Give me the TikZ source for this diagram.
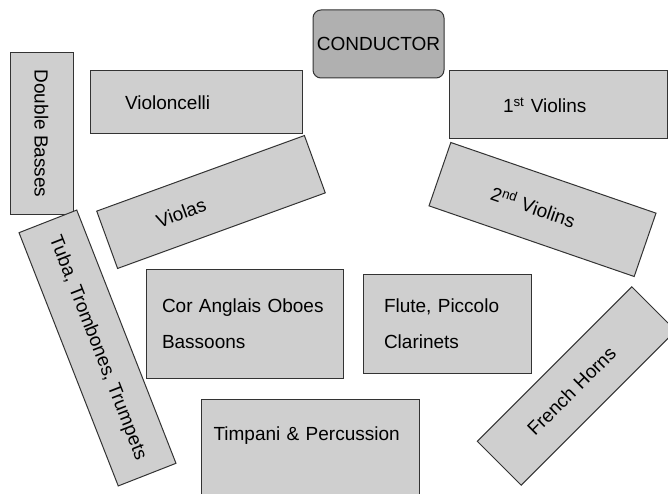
\documentclass[tikz,border=0pt]{standalone}
\usepackage{fontspec}
\setmainfont{Liberation Sans}
\usepackage{tikz}

\begin{document}
\begin{tikzpicture}[x={(1pt,0pt)},y={(0pt,-1pt)},
    section/.style={draw=black!80,fill=black!19,line width=1pt,inner ysep=0pt,
      font=\fontsize{19}{36}\selectfont,align=left},
    podium/.style={draw=black!80,fill=black!31,line width=1pt,rounded corners=8pt,
      inner sep=0pt,font=\fontsize{19}{22}\selectfont}]
  \clip (0,0) rectangle (668,494);
  % strings
  \node (basses) [section,rotate=-90,minimum width=161pt,minimum height=63pt,inner xsep=0pt] at (41.5,133.5) {Double Basses};
  \node (cellos) [section,minimum width=212pt,minimum height=63pt,inner xsep=35pt,text width=142pt] at (196,102.5) {Violoncelli};
  \node (conductor) [podium,minimum width=131pt,minimum height=68pt] at (378.5,44) {CONDUCTOR};
  \node (firstvn) [section,minimum width=218pt,minimum height=68pt,inner xsep=54pt,text width=110pt] at (558,105) {1\textsuperscript{st} Violins};
  \node (secondvn) [section,rotate=-19,minimum width=217pt,minimum height=67pt,inner xsep=55pt,text width=107pt] at (542.5,209.5) {2\textsuperscript{nd} Violins};
  \node (violas) [section,rotate=20,minimum width=221pt,minimum height=61pt,inner xsep=53pt,text width=115pt] at (211,202) {Violas};
  % brass
  \node (brass) [section,rotate=-68.6,minimum width=272pt,minimum height=62pt,inner xsep=0pt] at (97.5,348) {Tuba, Trombones, Trumpets};
  \node (horns) [section,rotate=45,minimum width=218.5pt,minimum height=62pt,inner xsep=44pt,text width=130.5pt] at (576.5,386) {French Horns};
  % woodwind
  \node (reeds) [section,minimum width=197pt,minimum height=109pt,inner xsep=16pt,text width=165pt] at (244.5,323.5) {Cor Anglais Oboes\\Bassoons};
  \node (flutes) [section,minimum width=168pt,minimum height=99pt,inner xsep=21pt,text width=126pt] at (447,323.5) {Flute, Piccolo\\Clarinets};
  % percussion
  \node (timpani) [section,anchor=north west,inner xsep=12pt,text width=194pt,text height=41pt,text depth=110pt] at (201,399) {Timpani \& Percussion};
\end{tikzpicture}
\end{document}
